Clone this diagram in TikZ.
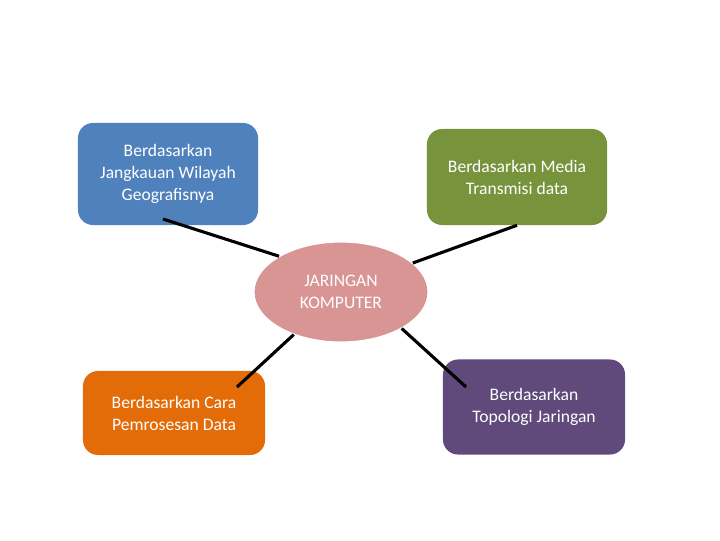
\documentclass[tikz,border=0pt]{standalone}
\usepackage{fontspec}
\setmainfont{Carlito}
\usepackage{tikz}
\usetikzlibrary{shapes,positioning}
\definecolor{biru}{HTML}{4F81BD}
\definecolor{hijau}{HTML}{77933C}
\definecolor{oranye}{HTML}{E36C09}
\definecolor{ungu}{HTML}{604A7B}
\definecolor{merah}{HTML}{D99594}

\begin{document}
\begin{tikzpicture}
          [x=0.025cm, y=-0.025cm,
           kotak/.style={rectangle, rounded corners=0.375cm, text=white, align=center,
                         font=\fontsize{12.5}{15.6}\selectfont, inner sep=2pt},
           garis/.style={line width=2.2pt, black}]
          \useasboundingbox (0,0) rectangle (720,540);

          \node (pusat) [ellipse, fill=merah, draw=white, thick, minimum width=4.35cm,
                         minimum height=2.5cm, text=white, align=center,
                         font=\fontsize{12.5}{15.6}\selectfont] at (341,292) {JARINGAN\\KOMPUTER};
          \node (wilayah) [kotak, fill=biru, minimum width=4.5cm, minimum height=2.55cm]
                at (168,174) {Berdasarkan\\Jangkauan Wilayah\\Geografisnya};
          \node (media) [kotak, fill=hijau, minimum width=4.5cm, minimum height=2.4cm]
                at (517,177) {Berdasarkan Media\\Transmisi data};
          \node (proses) [kotak, fill=oranye, minimum width=4.55cm, minimum height=2.1cm]
                at (174,413) {Berdasarkan Cara\\Pemrosesan Data};
          \node (topologi) [kotak, fill=ungu, minimum width=4.55cm, minimum height=2.375cm]
                at (534,407) {Berdasarkan\\Topologi Jaringan};

          \coordinate (u1) at (163,219);
          \coordinate (u3) at (237,387);
          \coordinate (u4) at (466,387);

          \draw[garis] (pusat.150) -- (u1);
          \draw[garis] (pusat.22) -- (media.south);
          \draw[garis] (pusat.222) -- (u3);
          \draw[garis] (pusat.329) -- (u4);
        \end{tikzpicture}
\end{document}
